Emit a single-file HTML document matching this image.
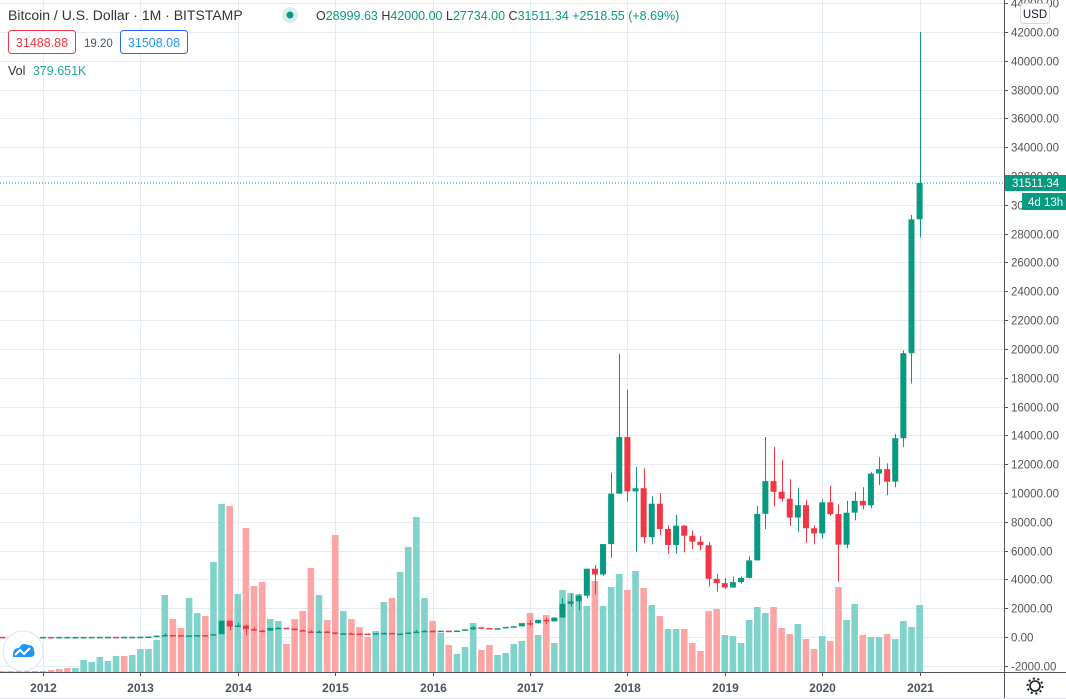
<!DOCTYPE html>
<html><head><meta charset="utf-8">
<style>
body{margin:0;background:#fff;width:1066px;height:699px;overflow:hidden;font-family:"Liberation Sans",sans-serif;}
svg{display:block}
</style></head>
<body>
<svg id="chart" width="1066" height="699" viewBox="0 0 1066 699">
<g id="grid"></g>
<g id="vols"></g>
<g id="candles"></g>
<line x1="0" y1="183" x2="1004" y2="183" stroke="#089981" stroke-width="1" stroke-dasharray="1,2"/>
<line x1="1004.5" y1="0" x2="1004.5" y2="699" stroke="#50535e"/>
<line x1="0" y1="672.5" x2="1066" y2="672.5" stroke="#50535e"/>
<line x1="0" y1="698.5" x2="1066" y2="698.5" stroke="#e0e3eb"/>
<g id="yaxis"></g>
<g id="xaxis"></g>
<g><rect x="1020.5" y="3.5" width="29" height="20" rx="3" fill="#fff" stroke="#d1d4dc"/><text x="1035" y="18" font-size="11.5" fill="#131722" text-anchor="middle">USD</text></g>
<g><rect x="1005" y="175" width="61" height="16" fill="#089981"/><text x="1012" y="187" font-size="11.5" fill="#fff">31511.34</text></g>
<g><rect x="1022" y="193" width="44" height="17" fill="#089981"/><text x="1028" y="206" font-size="11.5" fill="#fff">4d 13h</text></g>
<g>
<text x="8" y="20" font-size="14" fill="#333">Bitcoin / U.S. Dollar · 1M · BITSTAMP</text>
<circle cx="290" cy="15" r="8" fill="#d7f0ec"/><circle cx="290" cy="15" r="3.5" fill="#089981"/>
<text x="316" y="20" font-size="12.5" fill="#089981"><tspan fill="#333">O</tspan>28999.63 <tspan fill="#333">H</tspan>42000.00 <tspan fill="#333">L</tspan>27734.00 <tspan fill="#333">C</tspan>31511.34 +2518.55 (+8.69%)</text>
<rect x="8.5" y="30.5" width="67" height="23" rx="3" fill="#fff" stroke="#f23645"/><text x="42" y="47" font-size="12.5" fill="#f23645" text-anchor="middle">31488.88</text>
<text x="84" y="47" font-size="11.5" fill="#50535e">19.20</text>
<rect x="120.5" y="30.5" width="67" height="23" rx="3" fill="#fff" stroke="#2962ff"/><text x="154" y="47" font-size="12.5" fill="#2196f3" text-anchor="middle">31508.08</text>
<text x="8" y="75" font-size="12.5" fill="#333">Vol <tspan fill="#26a69a" dx="4">379.651K</tspan></text>
</g>
<g><circle cx="23" cy="651" r="20" fill="#fff" stroke="#e0e3eb"/><path d="M13 657 Q12 648 19 648 Q22 642 28 645 Q34 645 34 651 Q36 657 30 657 Z" fill="#2196f3"/><path d="M15 655 L20 650 L24 654 L30 648" stroke="#fff" stroke-width="2" fill="none"/></g>
<g><circle cx="1035" cy="686" r="5" fill="none" stroke="#131722" stroke-width="1.6"/><circle cx="1035" cy="686" r="7.5" fill="none" stroke="#131722" stroke-width="2" stroke-dasharray="2,2.7"/></g>
</svg>
<script>
// monthly data starting 2011-08
const startYear = 2011, startMonth = 8;
const opens  = [13.3,8.2,5.1,3.3,3.0, 4.7,5.5,4.9,4.9,5.0,5.1,6.7,9.4,10.2,12.4,11.2,12.6,
 13.5,20.4,33.4,93,139,128,97,106,135,127,198,1130,
 732,800,550,450,447,627,640,586,478,386,338,378,
 320,217,254,244,236,230,263,284,230,236,311,377,
 430,368,437,416,448,531,670,624,573,609,700,742,
 963,960,1190,1080,1350,2300,2480,2870,4740,4340,6450,9950,
 13880,10110,10330,6930,9250,7500,6390,7730,7030,6620,6370,4040,
 3740,3440,3810,4100,5320,8550,10820,10080,9600,8290,9150,7550,
 7190,9350,8530,6410,8630,9450,9140,11350,11650,10780,13800,19700,
 28999.63];
const highs  = [15,9,6,4,4, 7,6,5,5,5,7,9,13,12,13,12,14,
 22,34,95,266,139,130,109,135,140,198,1163,1150,
 1000,850,700,500,630,680,650,600,520,480,460,420,
 330,280,300,260,250,270,315,290,260,320,500,470,
 470,440,430,460,550,780,700,630,620,710,750,980,
 1150,1200,1350,1350,2700,3000,2950,4750,5000,6450,11400,19666,
 17176,11790,11700,9770,10000,7770,8480,7770,7410,7000,6600,4400,
 4100,4200,4200,5600,9100,13880,13200,12300,10950,10370,9500,7750,
 9600,10500,9200,9460,10080,10400,11450,12480,12050,14100,19900,29300,
 42000];
const lows   = [7,4.5,2.5,2,2.5, 4.3,4.2,4.7,4.8,4.9,5,6.5,7.5,9,10,10,11,
 13,19,33,50,79,65,65,90,103,120,195,456,
 700,100,430,340,420,560,560,460,440,370,280,310,
 170,200,230,210,230,220,260,200,225,235,300,360,
 350,360,400,410,440,500,600,550,590,600,690,730,
 750,920,890,1080,1350,2100,1850,2700,2970,4250,5500,10000,
 9400,5920,6500,6430,7050,5780,5800,5880,6100,6030,3500,3150,
 3350,3400,3700,4050,5330,7500,9070,9400,7710,7300,6520,6430,
 6850,8420,3850,6150,8100,8850,8930,10550,9850,10400,13200,17600,
 27734];
const closes = [8.2,5.1,3.3,3.0,4.7, 5.5,4.9,4.9,5.0,5.1,6.7,9.4,10.2,12.4,11.2,12.6,13.5,
 20.4,33.4,93,139,128,97,106,135,127,198,1130,732,
 800,550,450,447,627,640,586,478,386,338,378,320,
 217,254,244,236,230,263,284,230,236,311,377,430,
 368,437,416,448,531,670,624,573,609,700,742,963,
 960,1190,1080,1350,2300,2480,2870,4740,4340,6450,9950,13880,
 10110,10330,6930,9250,7500,6390,7730,7030,6620,6370,4040,3740,
 3440,3810,4100,5320,8550,10820,10080,9600,8290,9150,7550,7190,
 9350,8530,6410,8630,9450,9140,11350,11650,10780,13800,19700,28990,
 31511.34];
const volumes = [1,1,1,1,1, 1,2,3,4,4,12,10,15,11,16,16,17,
 23,23,32,77,53,44,74,59,56,110,168,166,
 78,144,86,90,53,51,28,53,61,104,77,52,
 137,61,53,45,35,41,70,74,100,125,155,74,
 51,39,27,18,25,49,22,27,17,19,28,31,
 59,37,57,29,82,79,78,66,91,66,85,98,
 82,101,84,67,56,43,43,43,29,21,61,63,
 37,36,29,52,65,59,65,44,38,48,33,23,
 36,31,85,52,68,37,35,35,38,33,51,45,
 67];
const volumeDirs = "ddddu" +
 "uddduuuuuudu" +
 "uuuudduuduud" +
 "uddduuddddud" +
 "duddduuduuuu" +
 "duduuudduuuu" +
 "duduuuuuduuu" +
 "dududuuddddd" +
 "uuuuuudddudd" +
 "udduuduuduuu" +
 "u";
const priceTicks = [-2000,0,2000,4000,6000,8000,10000,12000,14000,16000,18000,20000,22000,24000,26000,28000,30000,32000,34000,36000,38000,40000,42000,44000];
const yearLabels = ["2012","2013","2014","2015","2016","2017","2018","2019","2020","2021"];

const NS="http://www.w3.org/2000/svg";
function mk(tag,attrs,parent){const e=document.createElementNS(NS,tag);for(const k in attrs)e.setAttribute(k,attrs[k]);parent.appendChild(e);return e;}
const yPrice = p => 637 - p*(605/42000);
const xIdx = i => 43 + ((startYear-2012)*12 + (startMonth-1) + i)*(97.4/12);
const xYear = y => 43 + (y-2012)*97.4;
const yVol = v => 672 - v*(168/168);

const grid=document.getElementById('grid'), yaxis=document.getElementById('yaxis'), xaxis=document.getElementById('xaxis');
priceTicks.forEach(p=>{
  const y=Math.round(yPrice(p))+0.5;
  const l=mk('line',{x1:0,x2:1004,y1:y,y2:y,stroke:'#e3ecf3','stroke-width':1},grid);
  
  
  mk('line',{x1:1004,x2:1008,y1:y,y2:y,stroke:'#50535e'},yaxis);
  const t=mk('text',{x:1011,y:y+4,'font-size':11.5,fill:'#50535e'},yaxis);
  t.textContent=p.toFixed(2);
  
  
});
yearLabels.forEach(s=>{
  const x=Math.round(xYear(+s))+0.5;
  const l=mk('line',{x1:x,x2:x,y1:0,y2:672,stroke:'#e3ecf3'},grid);
  
  
  mk('line',{x1:x,x2:x,y1:672,y2:676,stroke:'#50535e'},xaxis);
  const t=mk('text',{x:x,y:692,'font-size':12,'font-weight':'bold',fill:'#50535e','text-anchor':'middle'},xaxis);
  t.textContent=s;
  
  
});
const vg=document.getElementById('vols'), cg=document.getElementById('candles');
const W=6.6;
volumes.forEach((v,i)=>{
  const x=xIdx(i), top=yVol(v);
  const up=(volumeDirs[i]||'u')==='u';
  const r=mk('rect',{x:x-W/2,y:top,width:W,height:672-top,fill:up?'#80d3cb':'#fda5a5'},vg);
  
  
});
opens.forEach((o,i)=>{
  const c=closes[i], x=xIdx(i), up=c>=o, col=up?'#089981':'#f23645';
  const g=mk('g',{},cg);
  
  
  mk('line',{x1:Math.round(x)+0.5,x2:Math.round(x)+0.5,y1:yPrice(highs[i]),y2:yPrice(lows[i]),stroke:col,'stroke-width':1},g);
  const t=yPrice(Math.max(o,c)), b=yPrice(Math.min(o,c));
  mk('rect',{x:x-3,y:t,width:6,height:Math.max(1.5,b-t),fill:col},g);
});
</script>
</body></html>
